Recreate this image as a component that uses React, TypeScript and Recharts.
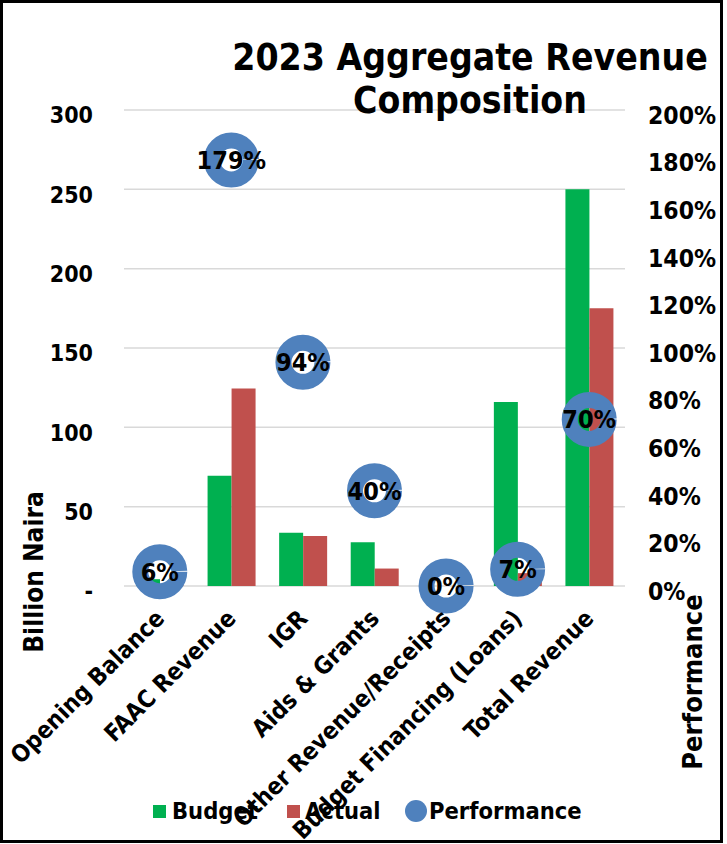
import React from 'react';
import { ComposedChart, Bar, Line, XAxis, YAxis, CartesianGrid, LabelList } from 'recharts';

const FONT = "'DejaVu Sans Condensed', 'DejaVu Sans', sans-serif";

const categories = [
  'Opening Balance',
  'FAAC Revenue',
  'IGR',
  'Aids & Grants',
  'Other Revenue/Receipts',
  'Budget Financing (Loans)',
  'Total Revenue',
];
// billion naira
const budget = [4.3, 69.5, 33.5, 27.5, 0, 116, 250];
const actual = [0.26, 124.5, 31.5, 11, 0, 8.1, 175];
// actual as % of budget
const performance = [6, 179, 94, 40, 0, 7, 70];

const leftTicks = [0, 50, 100, 150, 200, 250, 300];
const rightTicks = [0, 20, 40, 60, 80, 100, 120, 140, 160, 180, 200];

const data = categories.map((name, i) => ({
  name,
  budget: budget[i],
  actual: actual[i],
  performance: performance[i],
}));

const LeftTick = (props: any) => {
  const { x, y, payload } = props;
  return (
    <text x={x} y={y + 5} dy="0.36em" textAnchor="end" fontFamily={FONT} fontWeight="bold" fontSize={23} fill="#000">
      {payload.value === 0 ? '-' : payload.value}
    </text>
  );
};

const RightTick = (props: any) => {
  const { x, y, payload } = props;
  return (
    <text x={x} y={y + 5} dy="0.36em" textAnchor="start" fontFamily={FONT} fontWeight="bold" fontSize={24.5} fill="#000">
      {`${payload.value}%`}
    </text>
  );
};

const CategoryTick = (props: any) => {
  const { x, y, payload } = props;
  return (
    <text
      transform={`translate(${x + 6},${y + 34}) rotate(-45)`}
      textAnchor="end"
      fontFamily={FONT}
      fontWeight="bold"
      fontSize={24}
      fill="#000"
    >
      {payload.value}
    </text>
  );
};

// doughnut style marker with a thin notch at 3 o'clock
const RingDot = (props: any) => {
  const { cx, cy, index } = props;
  const r = 19.5;
  const c = 2 * Math.PI * r;
  return (
    <circle
      key={`ring-${index}`}
      cx={cx}
      cy={cy}
      r={r}
      fill="none"
      stroke="#4F81BD"
      strokeWidth={16}
      strokeDasharray={`${c - 1.5} 1.5`}
    />
  );
};

const PerfLabel = (props: any) => {
  const { x, y, value } = props;
  return (
    <text x={x} y={y} dy="0.36em" textAnchor="middle" fontFamily={FONT} fontWeight="bold" fontSize={25} fill="#000">
      {`${value}%`}
    </text>
  );
};

export default function App() {
  return (
    <div style={{ position: 'absolute', left: 0, top: 0, width: 727, height: 844, background: '#fff' }}>
      <ComposedChart
        width={727}
        height={844}
        data={data}
        margin={{ top: 110, right: 42, bottom: 58, left: 64 }}
        barGap={0}
      >
        <CartesianGrid yAxisId="left" vertical={false} stroke="#D9D9D9" strokeWidth={1.5} />
        <XAxis
          dataKey="name"
          height={200}
          interval={0}
          axisLine={false}
          tickLine={false}
          tickSize={0}
          tickMargin={0}
          tick={<CategoryTick />}
        />
        <YAxis
          yAxisId="left"
          width={60}
          domain={[0, 300]}
          ticks={leftTicks}
          axisLine={false}
          tickLine={false}
          tickSize={0}
          tickMargin={31}
          tick={<LeftTick />}
        />
        <YAxis
          yAxisId="right"
          orientation="right"
          width={60}
          domain={[0, 200]}
          ticks={rightTicks}
          axisLine={false}
          tickLine={false}
          tickSize={0}
          tickMargin={23}
          tick={<RightTick />}
        />
        <Bar yAxisId="left" dataKey="budget" fill="#00B050" barSize={24} isAnimationActive={false} />
        <Bar yAxisId="left" dataKey="actual" fill="#C0504D" barSize={24} isAnimationActive={false} />
        <Line
          yAxisId="right"
          dataKey="performance"
          stroke="none"
          dot={RingDot}
          activeDot={false}
          isAnimationActive={false}
        >
          <LabelList dataKey="performance" content={PerfLabel} />
        </Line>
      </ComposedChart>

      <svg
        width={727}
        height={844}
        style={{ position: 'absolute', left: 0, top: 0, pointerEvents: 'none' }}
        fontFamily={FONT}
        fontWeight="bold"
      >
        <text x={470} y={70} textAnchor="middle" fontSize={37} fill="#000">2023 Aggregate Revenue</text>
        <text x={470} y={113} textAnchor="middle" fontSize={37} fill="#000">Composition</text>

        <text transform="translate(43,572) rotate(-90)" textAnchor="middle" fontSize={26} fill="#000">Billion Naira</text>
        <text transform="translate(702,682) rotate(-90)" textAnchor="middle" fontSize={27} fill="#000">Performance</text>

        <rect x={153} y={805} width={13} height={13} fill="#00B050" />
        <text x={172} y={811} dy="0.36em" fontSize={23.5} fill="#000">Budget</text>
        <rect x={287} y={805} width={13} height={13} fill="#C0504D" />
        <text x={305} y={811} dy="0.36em" fontSize={23.5} fill="#000">Actual</text>
        <circle cx={416} cy={811} r={11} fill="#4F81BD" />
        <text x={429} y={811} dy="0.36em" fontSize={23.5} fill="#000">Performance</text>

        <rect x={1.5} y={1.5} width={720} height={840} fill="none" stroke="#000" strokeWidth={3} />
      </svg>
    </div>
  );
}
